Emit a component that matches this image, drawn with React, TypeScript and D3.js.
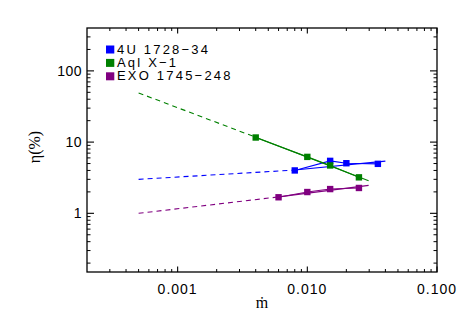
import React from "react";
import * as d3 from "d3";

const W = 463, H = 327;
const M = { left: 87, right: 437, top: 28, bottom: 272 };

const seriesNames = ["4U 1728\u221234", "Aql X\u22121", "EXO 1745\u2212248"];
const seriesColors = ["#0000ff", "#008000", "#800080"];

const blueX = [0.008, 0.015, 0.02, 0.035];
const blueY = [4.0, 5.45, 5.05, 4.95];
const greenX = [0.004, 0.01, 0.015, 0.025];
const greenY = [11.6, 6.2, 4.7, 3.2];
const purpleX = [0.006, 0.01, 0.015, 0.025];
const purpleY = [1.68, 1.99, 2.19, 2.27];

// fit lines: [dash start, first data point, solid end]
const blueFitX = [0.0005, 0.008, 0.04];
const blueFitY = [3.0, 4.05, 5.4];
const greenFitX = [0.0005, 0.004, 0.0297];
const greenFitY = [49, 11.7, 2.87];
const purpleFitX = [0.0005, 0.006, 0.0297];
const purpleFitY = [1.0, 1.7, 2.47];

const xTickValues = [0.001, 0.01, 0.1];
const xTickLabels = ["0.001", "0.010", "0.100"];
const yTickValues = [1, 10, 100];
const yTickLabels = ["1", "10", "100"];

const xDomain = [0.0002, 0.1];
const yDomain = [0.15, 400];

export default function App() {
  const x = d3.scaleLog().domain(xDomain).range([M.left, M.right]);
  const y = d3.scaleLog().domain(yDomain).range([M.bottom, M.top]);
  const line = d3
    .line<[number, number]>()
    .x((d) => x(d[0]))
    .y((d) => y(d[1]));

  const series = [
    { xs: blueX, ys: blueY, fx: blueFitX, fy: blueFitY },
    { xs: greenX, ys: greenY, fx: greenFitX, fy: greenFitY },
    { xs: purpleX, ys: purpleY, fx: purpleFitX, fy: purpleFitY },
  ];

  const xMinor: number[] = [];
  for (let e = -4; e <= -2; e++)
    for (let k = 2; k <= 9; k++) {
      const v = k * Math.pow(10, e);
      if (v > xDomain[0] * 1.0001 && v < xDomain[1]) xMinor.push(v);
    }
  const yMinor: number[] = [];
  for (let e = -1; e <= 2; e++)
    for (let k = 2; k <= 9; k++) {
      const v = k * Math.pow(10, e);
      if (v > yDomain[0] && v < yDomain[1]) yMinor.push(v);
    }

  const xMajLen = 5.5, xMinLen = 3, yMajLen = 7, yMinLen = 3.5;
  const tickFont = "'Liberation Sans', Arial, Helvetica, sans-serif";

  return (
    <svg
      width={W}
      height={H}
      style={{ position: "absolute", left: 0, top: 0, background: "#fff" }}
    >
      <rect x={0} y={0} width={W} height={H} fill="#fff" />
      {series.map((s, i) => {
        const pts = s.xs.map((v, j) => [v, s.ys[j]] as [number, number]);
        const fitDash = [
          [s.fx[0], s.fy[0]],
          [s.fx[1], s.fy[1]],
        ] as [number, number][];
        const fitSolid = [
          [s.fx[1], s.fy[1]],
          [s.fx[2], s.fy[2]],
        ] as [number, number][];
        const c = seriesColors[i];
        return (
          <g key={i}>
            <path d={line(fitDash) || ""} fill="none" stroke={c} strokeWidth={1.1} strokeDasharray="5,4" />
            <path d={line(fitSolid) || ""} fill="none" stroke={c} strokeWidth={1.1} />
            <path d={line(pts) || ""} fill="none" stroke={c} strokeWidth={1.1} />
            {pts.map((p, j) => (
              <rect key={j} x={x(p[0]) - 3.2} y={y(p[1]) - 3.2} width={6.4} height={6.4} fill={c} />
            ))}
          </g>
        );
      })}

      <rect
        x={M.left}
        y={M.top}
        width={M.right - M.left}
        height={M.bottom - M.top}
        fill="none"
        stroke="#000"
        strokeWidth={1.3}
      />
      {xTickValues.map((v, i) => (
        <g key={"xt" + i}>
          <line x1={x(v)} x2={x(v)} y1={M.bottom} y2={M.bottom - xMajLen} stroke="#000" strokeWidth={1.1} />
          <line x1={x(v)} x2={x(v)} y1={M.top} y2={M.top + xMajLen} stroke="#000" strokeWidth={1.1} />
          <text
            x={x(v)}
            y={293.5}
            textAnchor="middle"
            fontFamily={tickFont}
            fontSize={14}
            letterSpacing={1}
            fill="#000"
          >
            {xTickLabels[i]}
          </text>
        </g>
      ))}
      {xMinor.map((v, i) => (
        <g key={"xm" + i}>
          <line x1={x(v)} x2={x(v)} y1={M.bottom} y2={M.bottom - xMinLen} stroke="#000" strokeWidth={1} />
          <line x1={x(v)} x2={x(v)} y1={M.top} y2={M.top + xMinLen} stroke="#000" strokeWidth={1} />
        </g>
      ))}
      {yTickValues.map((v, i) => (
        <g key={"yt" + i}>
          <line x1={M.left} x2={M.left + yMajLen} y1={y(v)} y2={y(v)} stroke="#000" strokeWidth={1.1} />
          <line x1={M.right} x2={M.right - yMajLen} y1={y(v)} y2={y(v)} stroke="#000" strokeWidth={1.1} />
          <text
            x={82}
            y={y(v) + 5}
            textAnchor="end"
            fontFamily={tickFont}
            fontSize={14}
            letterSpacing={0.5}
            fill="#000"
          >
            {yTickLabels[i]}
          </text>
        </g>
      ))}
      {yMinor.map((v, i) => (
        <g key={"ym" + i}>
          <line x1={M.left} x2={M.left + yMinLen} y1={y(v)} y2={y(v)} stroke="#000" strokeWidth={1} />
          <line x1={M.right} x2={M.right - yMinLen} y1={y(v)} y2={y(v)} stroke="#000" strokeWidth={1} />
        </g>
      ))}

      <text
        x={(M.left + M.right) / 2}
        y={308}
        textAnchor="middle"
        fontFamily="'Liberation Serif', 'Times New Roman', serif"
        fontSize={16}
        fill="#000"
      >
        {"m\u0307"}
      </text>
      <text
        transform={`translate(40,147) rotate(-90)`}
        textAnchor="middle"
        fontFamily="'Liberation Serif', 'Times New Roman', serif"
        fontSize={16}
        fill="#000"
      >
        {"\u03b7(%)"}
      </text>

      {seriesNames.map((n, i) => (
        <g key={"lg" + i}>
          <rect x={106} y={45.5 + i * 13.4} width={8.3} height={8} fill={seriesColors[i]} />
          <text
            x={117}
            y={53.6 + i * 13.4}
            fontFamily={tickFont}
            fontSize={13}
            letterSpacing={2.2}
            fill="#000"
          >
            {n}
          </text>
        </g>
      ))}
    </svg>
  );
}
